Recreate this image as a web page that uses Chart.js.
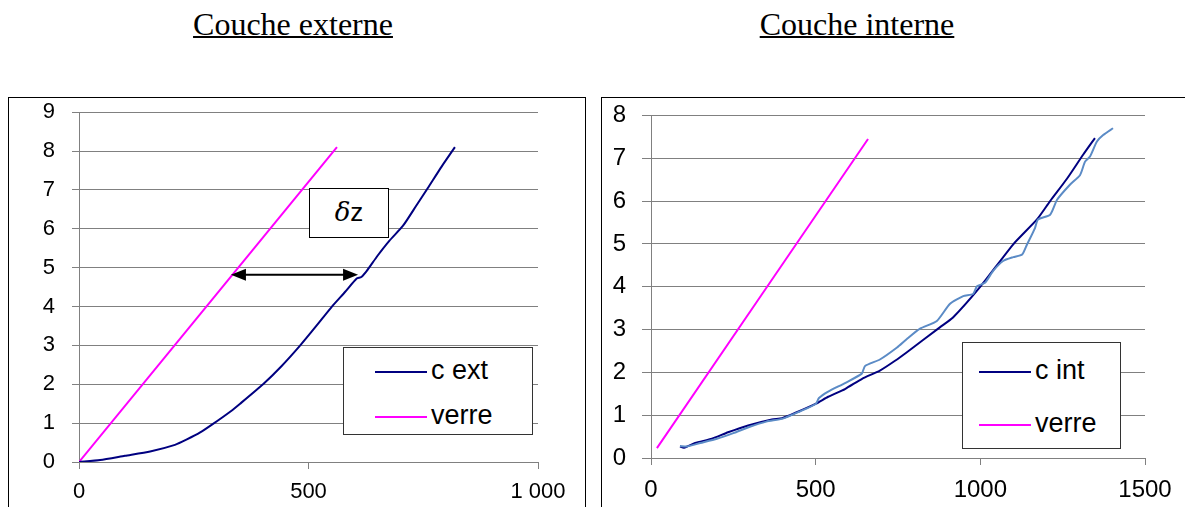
<!DOCTYPE html>
<html>
<head>
<meta charset="utf-8">
<script src="https://cdn.jsdelivr.net/npm/chart.js@4/dist/chart.umd.min.js"></script>
<style>
body { margin: 0; width: 1185px; height: 507px; overflow: hidden; background: #fff; position: relative; }
.titre { position: absolute; top: 6px; font-family: "Liberation Serif", "Times New Roman", serif; font-size: 32px; text-decoration: underline; text-decoration-thickness: 2px; color: #000; transform: translateX(-50%); white-space: nowrap; }
.cadre { position: absolute; top: 97px; height: 420px; border: 1.5px solid #000; box-sizing: border-box; }
canvas { position: absolute; }
.legende { position: absolute; background: #fff; border: 1px solid #333; box-sizing: border-box; font-family: "Liberation Sans", Arial, sans-serif; }
.legende div { position: absolute; left: 0; height: 30px; line-height: 30px; white-space: nowrap; }
.legende span { display: inline-block; width: 52px; height: 2px; vertical-align: middle; margin-right: 4px; }
.dz { position: absolute; background: #fff; border: 1.5px solid #000; box-sizing: border-box; text-align: center; font-size: 26px; }
</style>
</head>
<body>
<div class="titre" style="left:293px">Couche externe</div>
<div class="titre" style="left:857px">Couche interne</div>

<div class="cadre" style="left:8px; width:578px"></div>
<div class="cadre" style="left:601px; width:600px"></div>

<canvas id="ext" width="575" height="425" style="left:9px; top:82px"></canvas>
<canvas id="int" width="583" height="422" style="left:602px; top:85px"></canvas>

<div class="dz" style="left:309px; top:188px; width:80px; height:50px; line-height:46px"><i style="font-family:'DejaVu Serif',serif">δ</i><span style="font-family:'Liberation Sans',sans-serif">z</span></div>

<div class="legende" id="leg-ext" style="left:343px; top:347px; width:190px; height:88px; font-size:27px"></div>
<div class="legende" id="leg-int" style="left:962px; top:342px; width:159px; height:107px; font-size:27px"></div>

<script>
// couche externe
const cExtX = [0, 46, 100, 155, 209, 235, 264, 292, 330, 351, 401, 440, 482, 517, 551, 580, 605, 615, 627, 650, 676, 706, 735, 760, 790, 819];
const cExtY = [0, 0.05, 0.16, 0.27, 0.44, 0.58, 0.76, 0.98, 1.3, 1.5, 2.0, 2.45, 3.0, 3.5, 4.0, 4.38, 4.72, 4.76, 4.92, 5.3, 5.69, 6.08, 6.6, 7.05, 7.6, 8.1];
const verreExtX = [0, 562];
const verreExtY = [0, 8.1];
// écart delta z (flèche entre verre et c ext)
const ecartX = [331, 608];
const ecartY = 4.82;

// couche interne
const cIntX = [88, 100, 134, 185, 234, 295, 367, 398, 437, 501, 538, 589, 641, 695, 741, 777, 877, 917, 1000, 1100, 1172, 1212, 1263, 1312, 1348];
const cIntY = [0.27, 0.24, 0.35, 0.45, 0.6, 0.76, 0.9, 0.93, 1.05, 1.27, 1.43, 1.61, 1.85, 2.04, 2.27, 2.47, 3.05, 3.28, 4.0, 4.99, 5.57, 6.0, 6.52, 7.08, 7.47];
const cInt2X = [88, 110, 150, 200, 250, 300, 350, 400, 450, 500, 510, 538, 589, 640, 650, 695, 747, 777, 817, 868, 908, 948, 978, 990, 1014, 1039, 1069, 1100, 1127, 1142, 1166, 1175, 1212, 1233, 1272, 1303, 1318, 1333, 1354, 1373, 1403];
const cInt2Y = [0.28, 0.27, 0.35, 0.45, 0.58, 0.73, 0.85, 0.92, 1.08, 1.26, 1.4, 1.55, 1.75, 1.97, 2.15, 2.3, 2.58, 2.78, 3.02, 3.2, 3.6, 3.78, 3.83, 4.01, 4.09, 4.37, 4.6, 4.69, 4.75, 4.99, 5.37, 5.57, 5.68, 6.03, 6.38, 6.61, 6.92, 7.04, 7.39, 7.54, 7.7];
const verreIntX = [18, 659];
const verreIntY = [0.23, 7.45];

const FONT = '"Liberation Sans", Arial, sans-serif';
const GRIS = '#808080';

function points(xs, ys) {
    return xs.map((x, i) => ({ x: x, y: ys[i] }));
}

function serie(label, xs, ys, color, legend) {
    return {
        label: label,
        data: points(xs, ys),
        borderColor: color,
        backgroundColor: color,
        borderWidth: 2,
        pointRadius: 0,
        showLine: true,
        tension: 0.2,
        inLegend: legend
    };
}

function milliers(v) {
    return String(v).replace(/\B(?=(\d{3})+(?!\d))/g, ' ');
}

function echelles(o) {
    return {
        x: {
            type: 'linear', min: 0, max: o.xmax,
            ticks: { stepSize: 500, color: '#000', font: { family: FONT, size: o.fs }, padding: o.xpad, maxRotation: 0,
                     callback: o.sep ? milliers : (v => String(v)) },
            grid: { drawOnChartArea: false, drawTicks: true, tickLength: 7, color: GRIS },
            border: { color: GRIS },
            afterFit: s => { s.height = o.xh; }
        },
        y: {
            min: 0, max: o.ymax,
            ticks: { stepSize: 1, color: '#000', font: { family: FONT, size: o.fs }, padding: o.ypad },
            grid: { color: GRIS, tickLength: o.ytick },
            border: { color: GRIS },
            afterFit: s => { s.width = o.yw; }
        }
    };
}

// flèche double horizontale
const flechePlugin = {
    id: 'fleche',
    afterDatasetsDraw(chart, args, opts) {
        if (!opts.x) return;
        const ctx = chart.ctx;
        const xs = chart.scales.x, ys = chart.scales.y;
        const x1 = xs.getPixelForValue(opts.x[0]);
        const x2 = xs.getPixelForValue(opts.x[1]);
        const y = ys.getPixelForValue(opts.y);
        ctx.save();
        ctx.strokeStyle = '#000';
        ctx.fillStyle = '#000';
        ctx.lineWidth = 2;
        ctx.beginPath();
        ctx.moveTo(x1 + 10, y);
        ctx.lineTo(x2 - 10, y);
        ctx.stroke();
        [[x1, 1], [x2, -1]].forEach(([x, d]) => {
            ctx.beginPath();
            ctx.moveTo(x, y);
            ctx.lineTo(x + d * 15, y - 6);
            ctx.lineTo(x + d * 15, y + 6);
            ctx.closePath();
            ctx.fill();
        });
        ctx.restore();
    }
};

function legende(id, datasets, top, gap, lineX) {
    const box = document.getElementById(id);
    datasets.filter(d => d.inLegend).forEach((d, i) => {
        const row = document.createElement('div');
        row.style.top = (top + i * gap) + 'px';
        row.style.left = lineX + 'px';
        const trait = document.createElement('span');
        trait.style.background = d.borderColor;
        row.appendChild(trait);
        row.appendChild(document.createTextNode(d.label));
        box.appendChild(row);
    });
}

const dsExt = [
    serie('c ext', cExtX, cExtY, '#000080', true),
    serie('verre', verreExtX, verreExtY, '#ff00ff', true)
];

new Chart(document.getElementById('ext'), {
    type: 'scatter',
    data: { datasets: dsExt },
    plugins: [flechePlugin],
    options: {
        responsive: false, animation: false, devicePixelRatio: 1,
        layout: { padding: { top: 13, right: 46, left: 0, bottom: 0 } },
        scales: echelles({ xmax: 1000, ymax: 9, sep: true, fs: 22, xh: 45, yw: 70, xpad: 10, ypad: 17, ytick: 7 }),
        plugins: {
            legend: { display: false },
            tooltip: { enabled: false },
            fleche: { x: ecartX, y: ecartY }
        }
    }
});

const dsInt = [
    serie('c int', cIntX, cIntY, '#000080', true),
    serie('c int bis', cInt2X, cInt2Y, '#5b8bc6', false),
    serie('verre', verreIntX, verreIntY, '#ff00ff', true)
];
// ordre de tracé : la courbe claire au-dessus
dsInt[0].order = 2;
dsInt[1].order = 1;

new Chart(document.getElementById('int'), {
    type: 'scatter',
    data: { datasets: dsInt },
    options: {
        responsive: false, animation: false, devicePixelRatio: 1,
        layout: { padding: { top: 15, right: 40, left: 0, bottom: 0 } },
        scales: echelles({ xmax: 1500, ymax: 8, sep: false, fs: 24, xh: 49, yw: 49, xpad: 11, ypad: 16, ytick: 9 }),
        plugins: {
            legend: { display: false },
            tooltip: { enabled: false }
        }
    }
});

legende('leg-ext', dsExt, 7, 45, 31);
legende('leg-int', dsInt, 12, 53, 16);
</script>
</body>
</html>
